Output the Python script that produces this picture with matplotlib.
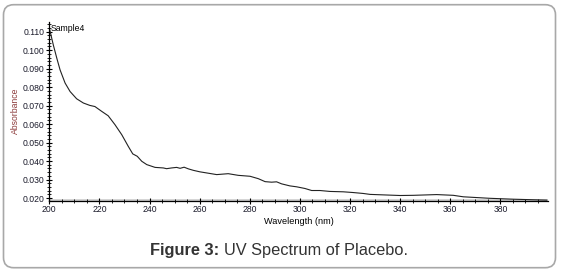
import matplotlib.pyplot as plt
from matplotlib.patches import FancyBboxPatch
from matplotlib.ticker import MultipleLocator, FormatStrFormatter

plt.rcParams['font.family'] = ['Liberation Sans', 'DejaVu Sans']

# absorbance trace
wavelength = [200.0, 201.6, 203.0, 204.3, 206.3, 208.3, 210.9, 213.6, 216.2, 218.2,
              220.9, 223.5, 226.2, 228.9, 231.5, 233.3, 235.1, 236.9, 238.9, 242.2,
              245.5, 246.8, 248.8, 250.8, 252.2, 253.8, 255.5, 257.5, 260.1, 262.8,
              266.8, 271.4, 275.4, 280.1, 283.4, 286.1, 288.7, 290.7, 292.7, 296.0,
              298.7, 302.0, 304.7, 308.0, 312.0, 317.3, 321.3, 325.3, 328.0, 340.0,
              345.3, 354.6, 361.2, 365.2, 375.6, 385.2, 398.5]
absorbance = [0.1120, 0.1028, 0.0956, 0.0893, 0.0822, 0.0776, 0.0737, 0.0714, 0.0701, 0.0695,
              0.0669, 0.0645, 0.0597, 0.0543, 0.0480, 0.0439, 0.0426, 0.0399, 0.0381, 0.0366,
              0.0363, 0.0359, 0.0363, 0.0366, 0.0361, 0.0367, 0.0358, 0.0350, 0.0342, 0.0336,
              0.0327, 0.0332, 0.0323, 0.0318, 0.0305, 0.0289, 0.0286, 0.0288, 0.0277, 0.0266,
              0.0261, 0.0252, 0.0241, 0.0241, 0.0236, 0.0234, 0.0230, 0.0225, 0.0220, 0.0214,
              0.0215, 0.0219, 0.0215, 0.0207, 0.0199, 0.0194, 0.0189]

# faint baseline trace near the bottom
base_x = [200, 400]
base_y = [0.0189, 0.0189]

fig = plt.figure(figsize=(5.64, 2.71), dpi=100)

frame = FancyBboxPatch((3.5 / 564, 3.3 / 271), 552 / 564, 263 / 271,
                       boxstyle="round,pad=0,rounding_size=0.018",
                       transform=fig.transFigure, fill=False,
                       edgecolor='#a8a8a8', linewidth=1.2, mutation_aspect=2.08)
fig.patches.append(frame)

ax = fig.add_axes([49.3 / 564, (271 - 200.5) / 271, (548 - 49.3) / 564, (200.5 - 22) / 271])
ax.plot(base_x, base_y, color='#c8c8c8', linewidth=1.8, zorder=1)
ax.plot(wavelength, absorbance, color='#222222', linewidth=0.8, zorder=2)

ax.set_xlim(200, 399)
ax.set_ylim(0.0187, 0.1152)

for s in ['top', 'right']:
    ax.spines[s].set_visible(False)
ax.spines['left'].set_linewidth(0.9)
ax.spines['bottom'].set_linewidth(0.9)

ax.xaxis.set_major_locator(MultipleLocator(20))
ax.xaxis.set_minor_locator(MultipleLocator(5))
ax.yaxis.set_major_locator(MultipleLocator(0.010))
ax.yaxis.set_minor_locator(MultipleLocator(0.002))
ax.yaxis.set_major_formatter(FormatStrFormatter('%.3f'))
ax.tick_params(which='major', direction='inout', length=5, width=0.8,
               labelsize=6.2, labelcolor='#1a1a2a', pad=1)
ax.tick_params(which='minor', direction='inout', length=2.8, width=0.6)

ax.set_xlabel('Wavelength (nm)', fontsize=6.6, labelpad=2)
fig.text(15 / 564, 1 - 111 / 271, 'Absorbance', rotation=90, fontsize=6.2,
         color='#8b3a3a', ha='center', va='center')
ax.text(200.5, 0.1118, 'Sample4', fontsize=6.2, ha='left', va='center')

# caption: bold part, then regular part placed right after it
cap_y = 1 - 250 / 271
t1 = fig.text(150 / 564, cap_y, 'Figure 3: ', fontsize=11.8, fontweight='bold',
              color='#333333', ha='left', va='center')
fig.canvas.draw()
bb = t1.get_window_extent()
fig.text(bb.x1 / 564, cap_y, 'UV Spectrum of Placebo.', fontsize=11.8,
         color='#333333', ha='left', va='center')

fig.savefig('out.png', dpi=100)
